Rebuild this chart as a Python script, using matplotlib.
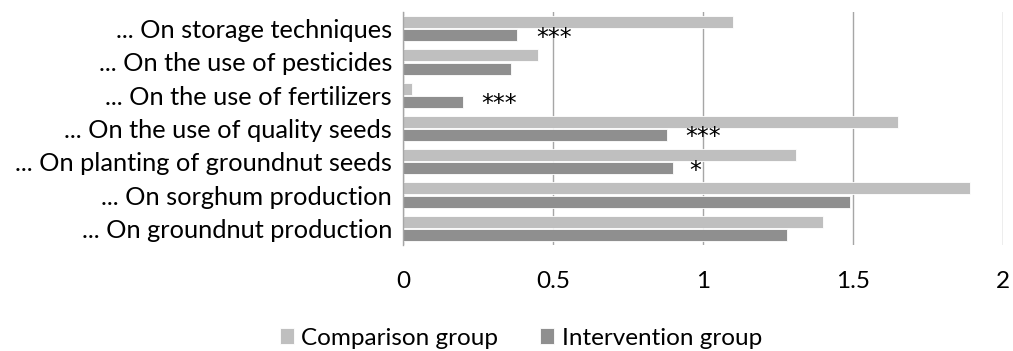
import numpy as np
import matplotlib.pyplot as plt

plt.rcParams['font.family'] = ['Lato', 'DejaVu Sans']

# bottom to top
topics = ['... On groundnut production', '... On sorghum production',
          '... On planting of groundnut seeds', '... On the use of quality seeds',
          '... On the use of fertilizers', '... On the use of pesticides',
          '... On storage techniques']
comparison = [1.40, 1.89, 1.31, 1.65, 0.03, 0.45, 1.10]
intervention = [1.28, 1.49, 0.90, 0.88, 0.20, 0.36, 0.38]

# significance markers next to the intervention bars
sig_rows = [6, 4, 3, 2]
sig_x = [0.505, 0.32, 1.0, 0.975]
sig_text = ['***', '***', '***', '*']

fig = plt.figure(figsize=(10.13, 3.51), dpi=100)
ax = fig.add_axes([0.398, 0.302, 0.592, 0.664])

y = np.arange(len(topics))
h = 0.36
ax.barh(y + 0.2, comparison, height=h, color='#bfbfbf', edgecolor='white',
        linewidth=0.6, label='Comparison group', zorder=2)
ax.barh(y - 0.2, intervention, height=h, color='#8f8f8f', edgecolor='white',
        linewidth=0.6, label='Intervention group', zorder=2)

for r, x, s in zip(sig_rows, sig_x, sig_text):
    ax.text(x, r - 0.27, s, ha='center', va='center', fontsize=17,
            family=['DejaVu Sans'], color='black')

ax.set_xlim(0, 2)
ax.set_ylim(-0.5, 6.5)
ax.set_xticks([0, 0.5, 1, 1.5, 2])
ax.set_xticklabels(['0', '0.5', '1', '1.5', '2'])
ax.set_yticks(y)
ax.set_yticklabels(topics)
ax.xaxis.grid(True, color='#a6a6a6', linewidth=1.0, zorder=0)
ax.set_axisbelow(True)
for s in ['top', 'right', 'bottom']:
    ax.spines[s].set_visible(False)
ax.spines['left'].set_color('#a6a6a6')
ax.spines['left'].set_linewidth(1.0)
ax.tick_params(axis='both', length=0, colors='black')
ax.tick_params(axis='x', pad=19, labelsize=17.5)
ax.tick_params(axis='y', pad=8, labelsize=18.3)

fig.legend(loc='center', bbox_to_anchor=(0.514, 0.037), ncol=2,
           frameon=False, fontsize=17.5, handlelength=0.6, handleheight=0.6,
           handletextpad=0.3, columnspacing=1.7, borderpad=0)

plt.savefig('out.png', dpi=100)
